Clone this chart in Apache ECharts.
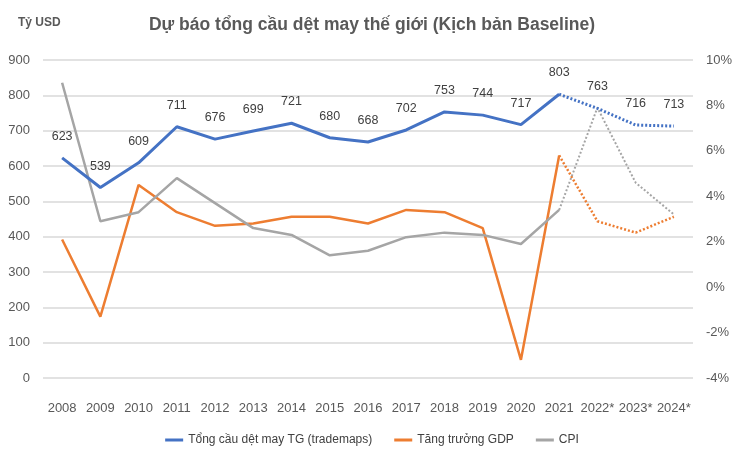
<!DOCTYPE html>
<html>
<head>
<meta charset="utf-8">
<script src="https://cdn.jsdelivr.net/npm/echarts@6/dist/echarts.min.js"></script>
<style>
  html, body { margin: 0; padding: 0; background: #fff; }
  #chart { width: 744px; height: 451px; }
</style>
</head>
<body>
<div id="chart"></div>
<script>
// danh mục năm, * = dự báo
const years = ['2008', '2009', '2010', '2011', '2012', '2013', '2014', '2015', '2016',
  '2017', '2018', '2019', '2020', '2021', '2022*', '2023*', '2024*'];
// Tổng cầu dệt may TG (tỷ USD)
const demand = [623, 539, 609, 711, 676, 699, 721, 680, 668, 702, 753, 744, 717, 803, 763, 716, 713];
// Tăng trưởng GDP (%)
const gdp = [2.1, -1.3, 4.5, 3.3, 2.7, 2.8, 3.1, 3.1, 2.8, 3.4, 3.3, 2.6, -3.2, 5.8, 2.9, 2.4, 3.1];
// CPI (%)
const cpi = [9.0, 2.9, 3.3, 4.8, 3.7, 2.6, 2.3, 1.4, 1.6, 2.2, 2.4, 2.3, 1.9, 3.4, 7.9, 4.6, 3.2];
const lastActual = 13; // 2021, sau đó là dự báo (nét chấm)

const FONT = "'Liberation Sans', Arial, sans-serif";
const BLUE = '#4472c4', ORANGE = '#ed7d31', GREY = '#a5a5a5';

const solid = arr => arr.map((v, i) => i <= lastActual ? v : '-');
const dotted = arr => arr.map((v, i) => i >= lastActual ? v : '-');

const myChart = echarts.init(document.getElementById('chart'));
const option = {
  animation: false,
  textStyle: { fontFamily: FONT },
  title: [
    {
      text: 'Dự báo tổng cầu dệt may thế giới (Kịch bản Baseline)',
      left: 'center', top: 11,
      textStyle: { fontSize: 17.5, fontWeight: 'bold', color: '#595959', fontFamily: FONT }
    },
    {
      text: 'Tỷ USD',
      left: 13, top: 12,
      textStyle: { fontSize: 12, fontWeight: 'bold', color: '#595959', fontFamily: FONT }
    }
  ],
  legend: {
    bottom: 0,
    left: 'center',
    icon: 'rect',
    itemWidth: 18,
    itemHeight: 3,
    itemGap: 22,
    textStyle: { fontSize: 12, color: '#404040', fontFamily: FONT },
    data: ['Tổng cầu dệt may TG (trademaps)', 'Tăng trưởng GDP', 'CPI']
  },
  grid: { left: 43, right: 51, top: 60, bottom: 73 },
  xAxis: {
    type: 'category',
    data: years,
    axisLine: { show: false },
    axisTick: { show: false },
    axisLabel: { fontSize: 13, color: '#595959', margin: 24, interval: 0 }
  },
  yAxis: [
    {
      type: 'value', min: 0, max: 900, interval: 100,
      axisLabel: { fontSize: 13, color: '#595959', margin: 13 },
      splitLine: { lineStyle: { color: '#d9d9d9', width: 1.5 } }
    },
    {
      type: 'value', min: -4, max: 10, interval: 2, position: 'right',
      axisLabel: { fontSize: 13, color: '#595959', margin: 13, formatter: '{value}%' },
      splitLine: { show: false }
    }
  ],
  series: [
    {
      name: 'Tổng cầu dệt may TG (trademaps)', type: 'line', yAxisIndex: 0,
      data: solid(demand), symbol: 'circle', symbolSize: 0, showSymbol: true,
      lineStyle: { color: BLUE, width: 3 }, itemStyle: { color: BLUE },
      label: { show: true, position: 'top', distance: 15, fontSize: 12.5, color: '#404040' },
      z: 5
    },
    {
      name: 'Tổng cầu dệt may TG (trademaps)', type: 'line', yAxisIndex: 0,
      data: dotted(demand), symbol: 'circle', symbolSize: 0, showSymbol: true,
      lineStyle: { color: BLUE, width: 3, type: [2, 2] }, itemStyle: { color: BLUE },
      label: {
        show: true, position: 'top', distance: 15, fontSize: 12.5, color: '#404040',
        formatter: p => p.dataIndex === lastActual ? '' : p.value
      },
      z: 5
    },
    {
      name: 'Tăng trưởng GDP', type: 'line', yAxisIndex: 1,
      data: solid(gdp), symbol: 'none',
      lineStyle: { color: ORANGE, width: 2.5 }, itemStyle: { color: ORANGE }
    },
    {
      name: 'Tăng trưởng GDP', type: 'line', yAxisIndex: 1,
      data: dotted(gdp), symbol: 'none',
      lineStyle: { color: ORANGE, width: 2.5, type: [2, 2] }, itemStyle: { color: ORANGE }
    },
    {
      name: 'CPI', type: 'line', yAxisIndex: 1,
      data: solid(cpi), symbol: 'none',
      lineStyle: { color: GREY, width: 2.5 }, itemStyle: { color: GREY }
    },
    {
      name: 'CPI', type: 'line', yAxisIndex: 1,
      data: dotted(cpi), symbol: 'none',
      lineStyle: { color: GREY, width: 2, type: [2, 2] }, itemStyle: { color: GREY }
    }
  ]
};
myChart.setOption(option);
</script>
</body>
</html>
